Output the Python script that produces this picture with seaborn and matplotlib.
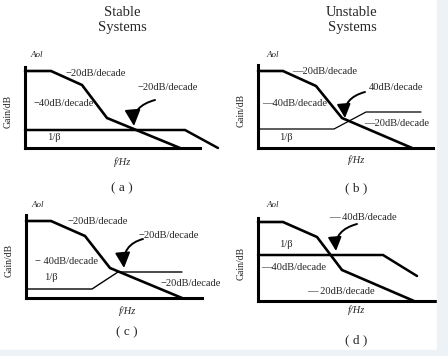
import matplotlib
matplotlib.use("Agg")
import matplotlib.pyplot as plt
from matplotlib.patches import FancyArrowPatch, Rectangle
import seaborn as sns
import pandas as pd

# asymptotic Bode breakpoints per panel (frequency position, gain)
aol_f_a = [0, 26, 57, 82, 155]
aol_g_a = [77, 77, 63, 30, 0]
beta_f_a = [0, 160, 193]
beta_g_a = [18, 18, 0]

aol_f_b = [0, 25, 58, 84, 154]
aol_g_b = [77, 77, 62, 30, 0]
beta_f_b = [0, 76, 108, 163]
beta_g_b = [19, 19, 36, 36]

aol_f_c = [0, 25, 59, 84, 156]
aol_g_c = [77, 77, 62, 30, 0]
beta_f_c = [0, 66, 92, 156]
beta_g_c = [9, 9, 26, 26]

aol_f_d = [0, 25, 59, 84, 156]
aol_g_d = [79, 79, 64, 31, 0]
beta_f_d = [0, 125, 159]
beta_g_d = [46, 46, 25]

W, H = 448, 356
fig = plt.figure(figsize=(4.48, 3.56), dpi=100)
fig.patch.set_facecolor("white")
fig.patches.append(Rectangle((437 / W, 0), 11 / W, 1, transform=fig.transFigure,
                             color="#edf2f7", zorder=0))
fig.patches.append(Rectangle((0, 0), 1, 6 / H, transform=fig.transFigure,
                             color="#edf2f7", zorder=0))

sns.set_style("white")
plt.rcParams["font.family"] = ["Liberation Serif", "DejaVu Serif"]

panels = [
    dict(box=(25, 148, 175, 81), aol=(aol_f_a, aol_g_a), beta=(beta_f_a, beta_g_a), beta_lw=1.8,
         label="( a )", lab_xy=(122, 188), axis_lab=(97, -14),
         texts=[("\u221220dB/decade", 40, 75), ("\u221220dB/decade", 112, 61),
                ("\u221240dB/decade", 8, 45), ("1/\u03b2", 22, 11)],
         aol_xy=(12, 93), arrow=((130, 48), (109, 22)), head=1.0),
    dict(box=(258, 148, 175, 83), aol=(aol_f_b, aol_g_b), beta=(beta_f_b, beta_g_b), beta_lw=0.9,
         label="( b )", lab_xy=(356, 188), axis_lab=(98, -12),
         texts=[("\u201420dB/decade", 34, 76), ("40dB/decade", 111, 60),
                ("\u201440dB/decade", 4, 44), ("\u201420dB/decade", 106, 24),
                ("1/\u03b2", 21, 11)],
         aol_xy=(15, 93), arrow=((107, 56), (87, 30)), head=0.85),
    dict(box=(26, 298, 176, 83), aol=(aol_f_c, aol_g_c), beta=(beta_f_c, beta_g_c), beta_lw=1.0,
         label="( c )", lab_xy=(127, 332), axis_lab=(101, -13),
         texts=[("\u221220dB/decade", 41, 77), ("\u221220dB/decade", 112, 62),
                ("\u2212 40dB/decade", 9, 37), ("1/\u03b2", 18, 21),
                ("\u221220dB/decade", 134, 15)],
         aol_xy=(12, 93), arrow=((117, 59), (98, 30)), head=0.95),
    dict(box=(258, 301, 177, 83), aol=(aol_f_d, aol_g_d), beta=(beta_f_d, beta_g_d), beta_lw=1.8,
         label="( d )", lab_xy=(356, 340), axis_lab=(98, -9),
         texts=[("\u2014 40dB/decade", 71, 84), ("1/\u03b2", 21, 57),
                ("\u201440dB/decade", 3, 34), ("\u2014 20dB/decade", 49, 10)],
         aol_xy=(15, 96), arrow=((99, 77), (78, 50)), head=0.85),
]

for p in panels:
    x0, y0, w, h = p["box"]
    ax = fig.add_axes([x0 / W, (H - y0) / H, w / W, h / H])
    ax.set_facecolor("none")
    df_aol = pd.DataFrame({"f": p["aol"][0], "g": p["aol"][1]})
    df_beta = pd.DataFrame({"f": p["beta"][0], "g": p["beta"][1]})
    sns.lineplot(data=df_aol, x="f", y="g", ax=ax, color="black", linewidth=1.9,
                 sort=False, estimator=None)
    sns.lineplot(data=df_beta, x="f", y="g", ax=ax, color="black", linewidth=p["beta_lw"],
                 sort=False, estimator=None)
    for ln in ax.lines:
        ln.set_clip_on(False)
        ln.set_solid_joinstyle("miter")
    ax.set_xlim(0, w)
    ax.set_ylim(0, h)
    ax.set_xticks([])
    ax.set_yticks([])
    ax.set_xlabel("")
    ax.set_ylabel("")
    for s in ["top", "right"]:
        ax.spines[s].set_visible(False)
    for s in ["left", "bottom"]:
        ax.spines[s].set_linewidth(2.2)
        ax.spines[s].set_color("black")

    for txt, tx, ty in p["texts"]:
        ax.text(tx, ty, txt, fontsize=7.6, va="center", ha="left", clip_on=False)
    ax.text(p["aol_xy"][0], p["aol_xy"][1], "Aol", fontsize=6.5, style="italic",
            va="center", ha="center")
    ax.text(p["axis_lab"][0], p["axis_lab"][1], "f/Hz", fontsize=7.5, style="italic",
            va="center", ha="center")
    ax.text(-17, h / 2 - 4, "Gain/dB", fontsize=7, rotation=90, va="center", ha="center")
    (sx, sy), (ex, ey) = p["arrow"]
    hs = p["head"]
    ax.add_patch(FancyArrowPatch((sx, sy), (ex, ey),
                                 connectionstyle="angle3,angleA=15,angleB=95",
                                 arrowstyle=f"-|>,head_length={0.75 * hs},head_width={0.37 * hs}",
                                 mutation_scale=13, color="black", linewidth=1.4,
                                 shrinkA=0, shrinkB=0, clip_on=False))
    fig.text(p["lab_xy"][0] / W, 1 - p["lab_xy"][1] / H, p["label"], fontsize=9.5,
             ha="center", va="center")

fig.text(122 / W, 1 - 12 / H, "Stable", fontsize=10.5, ha="center", va="center")
fig.text(122 / W, 1 - 27 / H, "Systems", fontsize=10.5, ha="center", va="center")
fig.text(352 / W, 1 - 12 / H, "Unstable", fontsize=10.5, ha="center", va="center")
fig.text(352 / W, 1 - 27 / H, "Systems", fontsize=10.5, ha="center", va="center")

fig.savefig("out.png", dpi=100, facecolor=fig.get_facecolor())
